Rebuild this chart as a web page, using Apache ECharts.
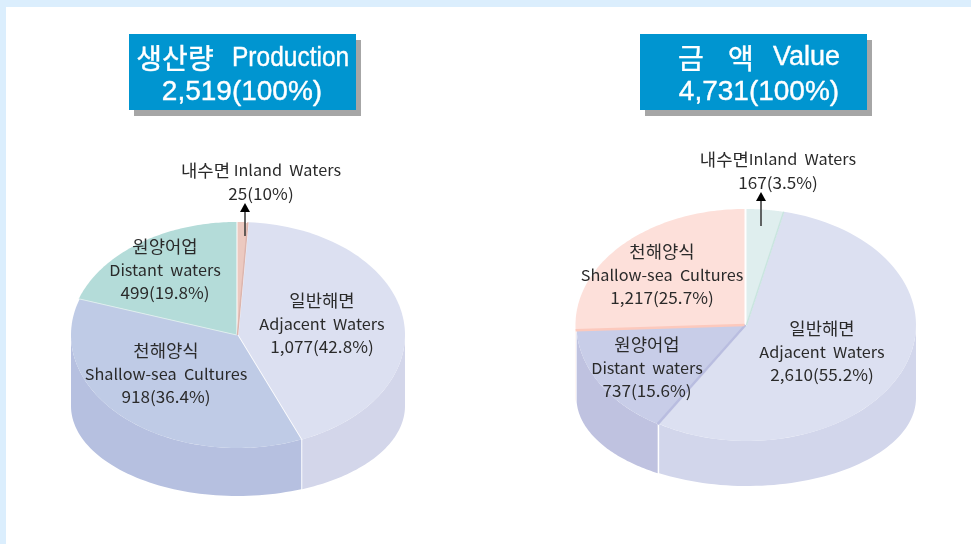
<!DOCTYPE html>
<html>
<head>
<meta charset="utf-8">
<style>
  html, body { margin: 0; padding: 0; background: #fff; }
  #chart { width: 971px; height: 544px; }
</style>
<script src="https://cdn.jsdelivr.net/npm/echarts@6/dist/echarts.min.js"></script>
</head>
<body>
<div id="chart"></div>
<script>
// slices run clockwise from 12 o'clock
var prodNames = ['내수면', '일반해면', '천해양식', '원양어업'];
var prodEnglish = ['Inland Waters', 'Adjacent Waters', 'Shallow-sea Cultures', 'Distant waters'];
var prodValues = [25, 1077, 918, 499];
var prodPercents = ['10', '42.8', '36.4', '19.8'];
var prodTotal = '2,519(100%)';

var valueNames = ['내수면', '일반해면', '원양어업', '천해양식'];
var valueEnglish = ['Inland Waters', 'Adjacent Waters', 'Distant waters', 'Shallow-sea Cultures'];
var valueValues = [167, 2610, 737, 1217];
var valuePercents = ['3.5', '55.2', '15.6', '25.7'];
var valueTotal = '4,731(100%)';

var KR = '"Noto Sans CJK KR", sans-serif';
var LATIN = '"Liberation Sans", sans-serif';

var prodPie = {
  cx: 237.5, cy: 335, rx: 166.5, ry: 113, botCy: 406, botRy: 90,
  top: ['#ecc9c0', '#dce0f1', '#bfcbe6', '#b4dcd9'],
  wall: ['#dcb5ae', '#d3d6ea', '#b6c0e0', '#a8d0cc'],
  shift: [0, 1, 0, -1],
  // [slice, which edge, colour, width]
  seams: [[0, 1, '#dcb5ae', 1.5], [3, 0, '#dfeeee', 1]],
  inlandGap: ' ',
  labels: [[261, 182], [322, 324], [166, 374], [165, 270]]
};
var valuePie = {
  cx: 745.5, cy: 325, rx: 169, ry: 116, botCy: 398, botRy: 88,
  top: ['#dfeeee', '#dce0f1', '#c8cde8', '#fde0da'],
  wall: ['#c9e5df', '#d2d6eb', '#bfc2e0', '#f5c9bd'],
  shift: [1, 1.5, 0, -1],
  seams: [[0, 1, '#c9e5df', 1.5], [2, 0, '#b9bde0', 2.5], [3, 0, '#fcc9bd', 2.5]],
  inlandGap: '',
  labels: [[778, 171], [822, 352], [647, 368], [662, 275]]
};

var labelRich = {
  k: { font: '16.6px ' + KR, fill: '#2a2a2a', lineHeight: 23 },
  e: { font: '15.2px ' + KR, fill: '#2a2a2a', lineHeight: 23 },
  n: { font: '16px ' + KR, fill: '#2a2a2a', lineHeight: 23 }
};

function pieItem(values, names, english, percents, pie) {
  var total = values.reduce(function (a, b) { return a + b; }, 0);
  function pt(t, cy, ry) {
    return [pie.cx + pie.rx * Math.sin(t), cy - ry * Math.cos(t)];
  }
  return function (params, api) {
    var i = params.dataIndex;
    var before = 0;
    for (var k = 0; k < i; k++) before += values[k];
    var a0 = before / total * Math.PI * 2;
    var a1 = (before + api.value(0)) / total * Math.PI * 2;
    var apex = [pie.cx, pie.cy];
    var children = [];

    // side wall, only the part that faces the viewer
    var w0 = Math.max(a0, Math.PI / 2), w1 = Math.min(a1, Math.PI * 1.5);
    if (w1 > w0) {
      var wall = [];
      for (var s = 0; s <= 60; s++) wall.push(pt(w0 + (w1 - w0) * s / 60, pie.cy, pie.ry));
      for (s = 60; s >= 0; s--) wall.push(pt(w0 + (w1 - w0) * s / 60, pie.botCy, pie.botRy));
      children.push({ type: 'polygon', shape: { points: wall }, style: { fill: pie.wall[i] } });
    }

    // top face
    var face = [apex];
    for (s = 0; s <= 80; s++) face.push(pt(a0 + (a1 - a0) * s / 80, pie.cy, pie.ry));
    children.push({ type: 'polygon', z2: 2, shape: { points: face }, style: { fill: pie.top[i] } });

    pie.seams.forEach(function (m) {
      if (m[0] !== i) return;
      var e = pt(m[1] === 0 ? a0 : a1, pie.cy, pie.ry);
      children.push({
        type: 'line', z2: 4,
        shape: { x1: apex[0], y1: apex[1], x2: e[0], y2: e[1] },
        style: { stroke: m[2], lineWidth: m[3] }
      });
    });

    // label text, the small slice keeps name and english on one line
    var number = '{n|' + values[i].toLocaleString('en-US') + '(' + percents[i] + '%)}';
    var eng = '{e|' + english[i].replace(' ', '  ') + '}';
    var text = i === 0
      ? '{k|' + names[i] + '}{e|' + pie.inlandGap + '}' + eng + '\n' + number
      : '{k|' + names[i] + '}\n' + eng + '\n' + number;
    var label = {
      type: 'text', z2: 10,
      x: pie.labels[i][0], y: pie.labels[i][1], scaleX: 1.07,
      style: { text: text, rich: labelRich, align: 'center', verticalAlign: 'middle' }
    };
    return {
      type: 'group',
      children: [{ type: 'group', x: pie.shift[i], children: children }, label]
    };
  };
}

function pieSeries(values, names, english, percents, pie) {
  return {
    type: 'custom', coordinateSystem: 'none', silent: true, animation: false,
    data: values.map(function (v) { return [v]; }),
    renderItem: pieItem(values, names, english, percents, pie)
  };
}

function titleText(text, x, y, font, scale, align) {
  return {
    type: 'text', x: x, y: y, scaleX: scale, z: 5,
    style: { text: text, fill: '#fff', font: font, align: align, verticalAlign: 'middle', stroke: '#fff', lineWidth: 0.4 }
  };
}

function titleBox(x, w) {
  return [
    { type: 'rect', shape: { x: x + 5, y: 40, width: w, height: 76 }, style: { fill: '#a6a6a6' } },
    { type: 'rect', shape: { x: x, y: 34, width: w, height: 76 }, style: { fill: '#0095d0' } }
  ];
}

function arrow(x, tip, base, bottom) {
  return [
    { type: 'line', shape: { x1: x, y1: base, x2: x, y2: bottom }, style: { stroke: '#333', lineWidth: 1.5 }, z: 20 },
    { type: 'polygon', shape: { points: [[x, tip], [x - 5, base], [x + 5, base]] }, style: { fill: '#000' }, z: 20 }
  ];
}

var chart = echarts.init(document.getElementById('chart'), null, { renderer: 'canvas' });
chart.setOption({
  animation: false,
  backgroundColor: '#fff',
  series: [
    pieSeries(prodValues, prodNames, prodEnglish, prodPercents, prodPie),
    pieSeries(valueValues, valueNames, valueEnglish, valuePercents, valuePie)
  ],
  graphic: [
    { type: 'rect', shape: { x: 0, y: 0, width: 971, height: 7 }, style: { fill: '#dbeefd' } },
    { type: 'rect', shape: { x: 0, y: 0, width: 6, height: 544 }, style: { fill: '#dbeefd' } }
  ].concat(
    titleBox(129, 227),
    titleBox(640, 227),
    [
      titleText('생산량', 175, 58, '28px ' + KR, 1, 'center'),
      titleText('Production', 232, 58, '28px ' + LATIN, 0.875, 'left'),
      titleText(prodTotal, 242, 92, '28px ' + LATIN, 1, 'center'),
      titleText('금', 691, 58, '28px ' + KR, 1, 'center'),
      titleText('액', 741, 58, '28px ' + KR, 1, 'center'),
      titleText('Value', 773, 58, '27px ' + LATIN, 1, 'left'),
      titleText(valueTotal, 759, 92, '28px ' + LATIN, 1, 'center')
    ],
    arrow(245, 203, 212, 236),
    arrow(761, 192, 201, 226)
  )
});
</script>
</body>
</html>
